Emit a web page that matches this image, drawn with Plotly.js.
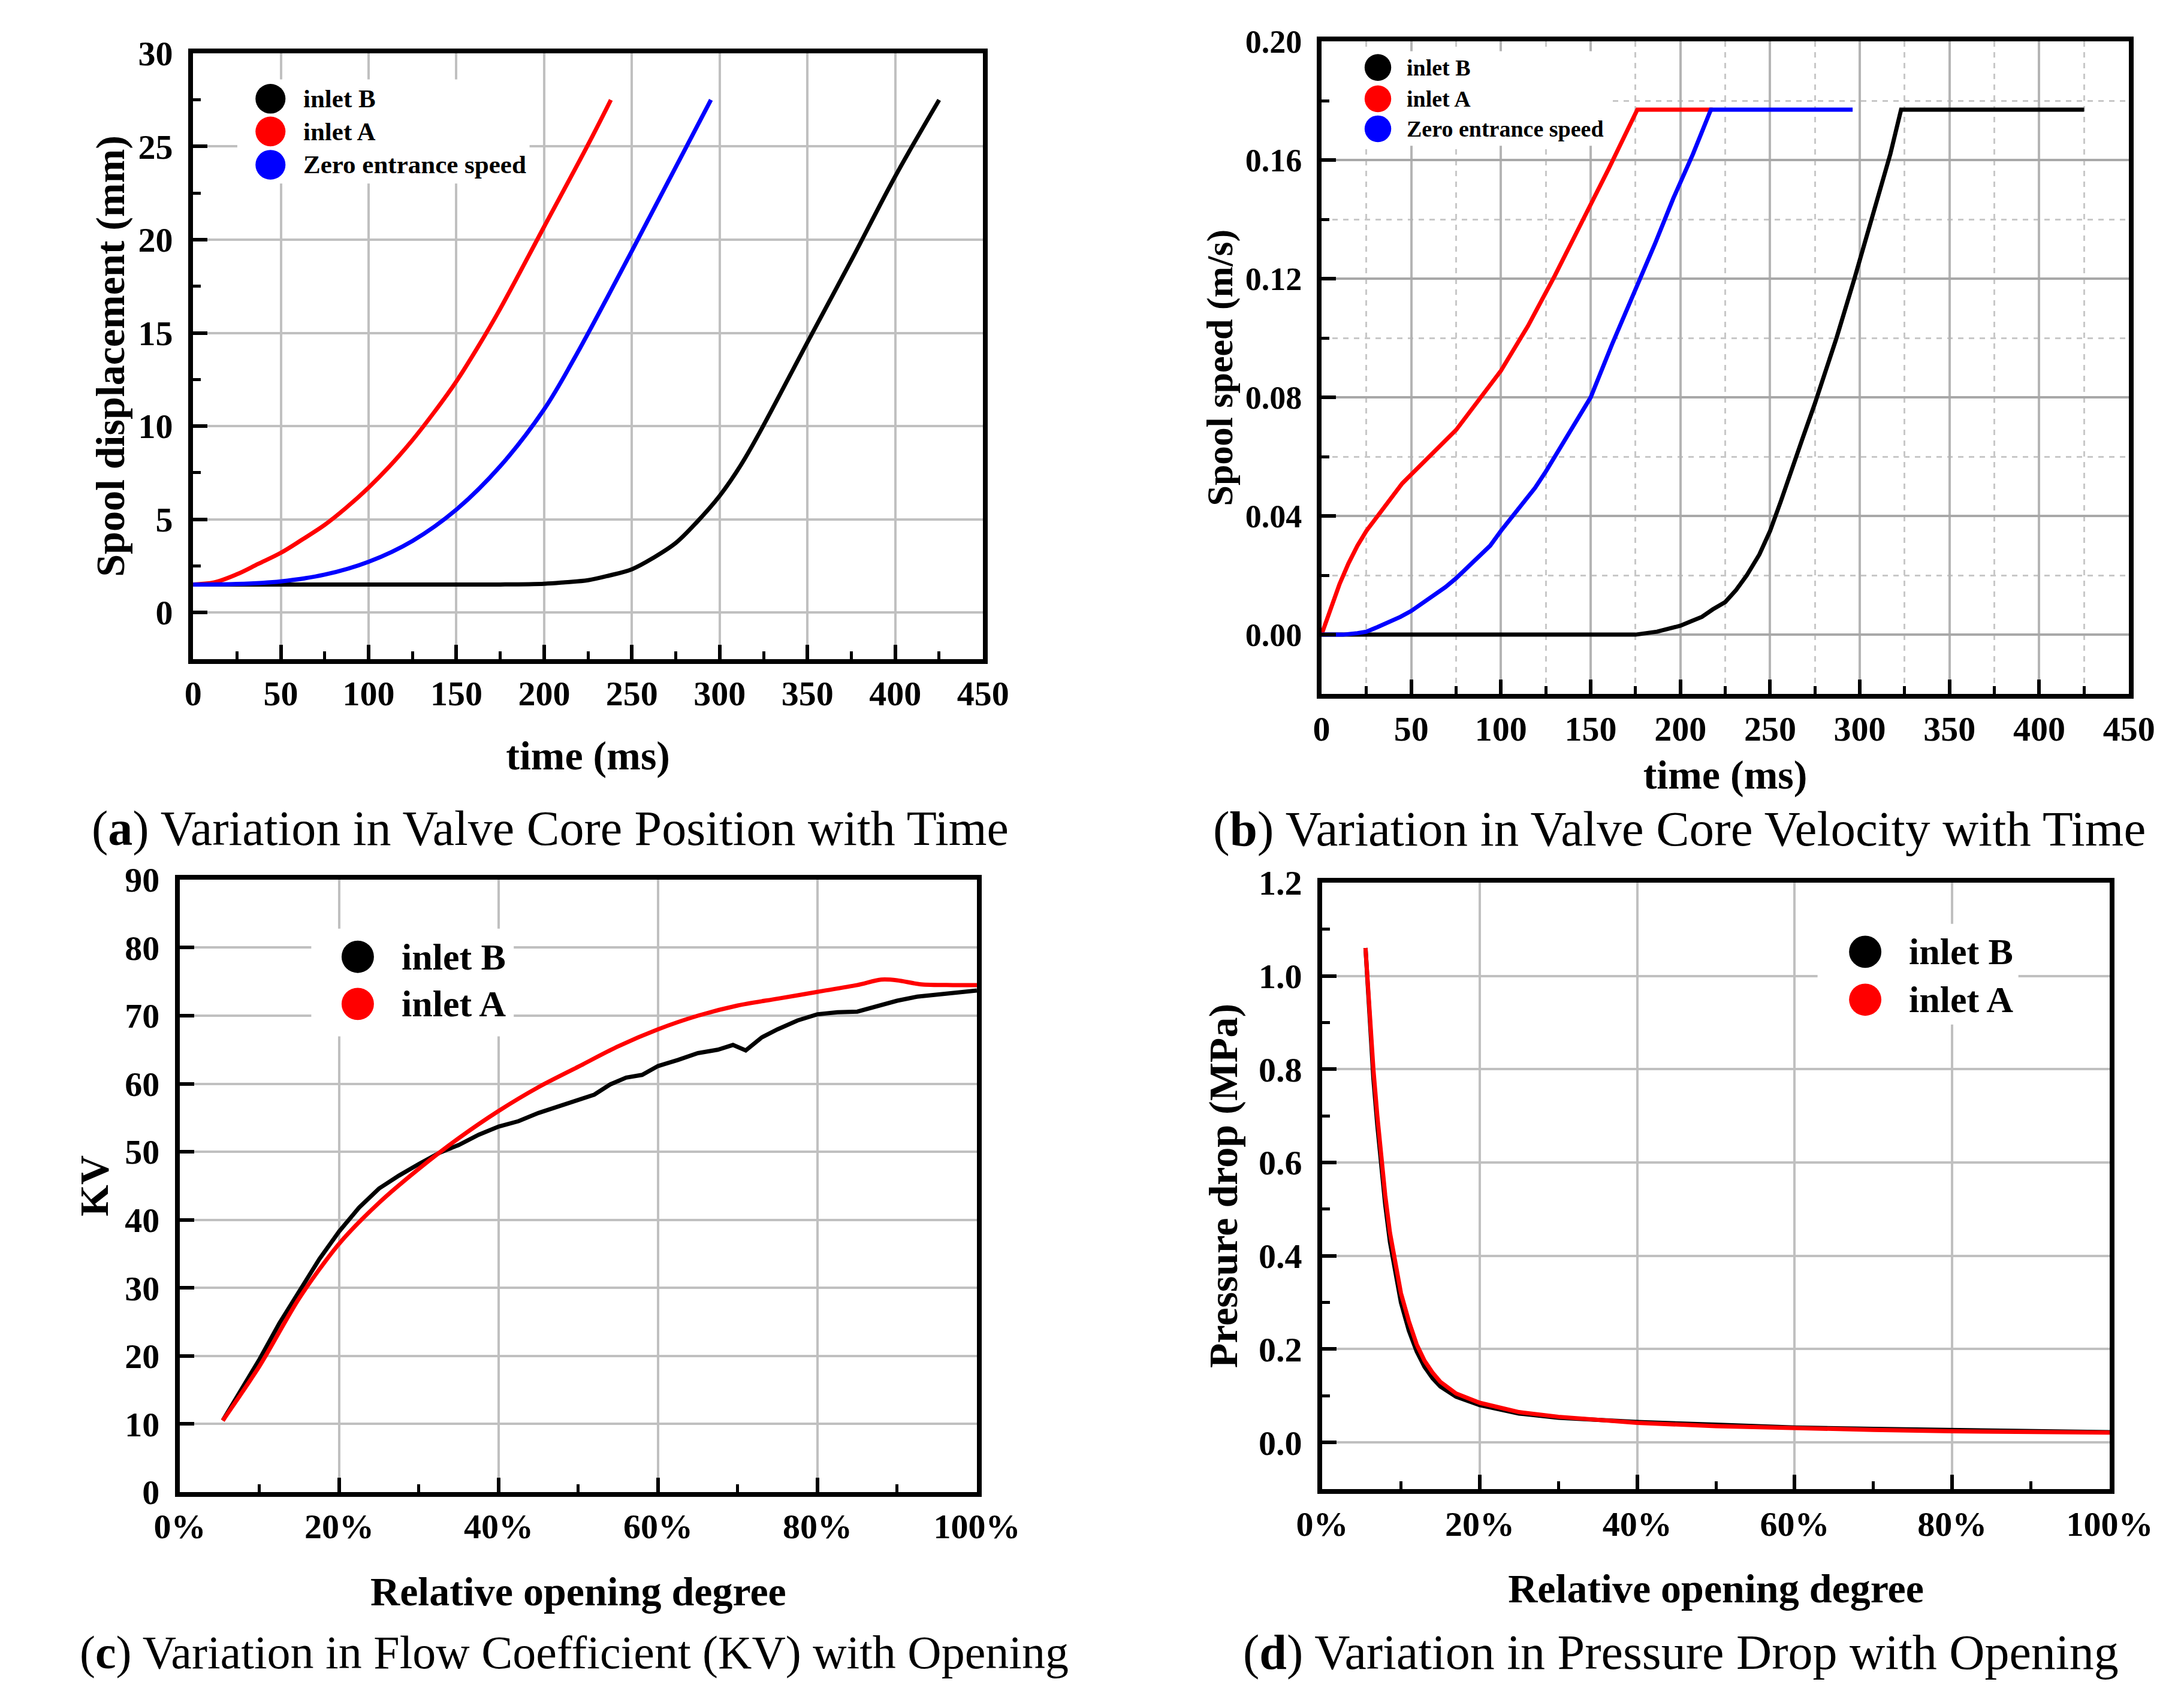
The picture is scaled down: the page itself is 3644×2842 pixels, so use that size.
<!DOCTYPE html>
<html>
<head>
<meta charset="utf-8">
<script src="https://cdn.plot.ly/plotly-3.0.1.min.js"></script>
<style>
  html, body { margin: 0; padding: 0; background: #fff; }
  #chart { width: 3644px; height: 2842px; }
</style>
</head>
<body>
<div id="chart"></div>
<script>
// (a) spool displacement (mm) vs time (ms)
const posTimeB = [0, 50, 100, 150, 175, 200, 212, 225, 237, 250, 262, 275, 287, 300, 312, 323, 350, 375, 400, 425];
const posB     = [1.5, 1.5, 1.5, 1.5, 1.5, 1.54, 1.62, 1.73, 1.98, 2.32, 2.92, 3.73, 4.85, 6.26, 7.9, 9.7, 14.5, 18.9, 23.4, 27.5];
const posTimeA = [0, 12, 25, 37, 50, 62, 75, 87, 100, 112, 125, 137, 150, 162, 175, 200, 225, 238];
const posA     = [1.5, 1.61, 2.05, 2.6, 3.2, 3.9, 4.7, 5.6, 6.7, 7.85, 9.25, 10.7, 12.4, 14.2, 16.3, 20.7, 25.1, 27.5];
const posTimeZ = [0, 25, 50, 75, 100, 125, 150, 175, 200, 217, 250, 275, 295];
const posZ     = [1.5, 1.53, 1.67, 2.03, 2.72, 3.84, 5.52, 7.85, 10.9, 13.6, 19.4, 23.9, 27.5];

// (b) spool speed (m/s) vs time (ms)
const spdTimeB = [0, 100, 175, 187, 200, 206, 212, 218, 225, 231, 237, 244, 250, 256, 262, 268, 275, 281, 287, 297, 310, 317, 323, 425];
const spdB     = [0, 0, 0, 0.001, 0.003, 0.0045, 0.006, 0.0085, 0.011, 0.015, 0.02, 0.027, 0.035, 0.045, 0.055, 0.066, 0.078, 0.089, 0.1, 0.12, 0.148, 0.162, 0.177, 0.177];
const spdTimeA = [0, 5, 10, 15, 20, 25, 30, 35, 40, 45, 50, 55, 60, 65, 70, 75, 80, 85, 90, 95, 100, 115, 130, 145, 160, 176, 218];
const spdA     = [0, 0.009, 0.017, 0.024, 0.030, 0.035, 0.039, 0.043, 0.047, 0.051, 0.054, 0.057, 0.060, 0.063, 0.066, 0.069, 0.073, 0.077, 0.081, 0.085, 0.089, 0.104, 0.121, 0.139, 0.157, 0.177, 0.177];
const spdTimeZ = [0, 12, 20, 25, 31, 37, 44, 50, 56, 62, 69, 75, 81, 87, 94, 100, 106, 112, 119, 125, 131, 137, 144, 150, 162, 175, 186, 196, 207, 217, 296];
const spdZ     = [0, 0, 0.0005, 0.001, 0.0025, 0.004, 0.006, 0.008, 0.0105, 0.013, 0.016, 0.019, 0.0225, 0.026, 0.030, 0.035, 0.0395, 0.044, 0.0495, 0.055, 0.061, 0.067, 0.0735, 0.08, 0.098, 0.116, 0.132, 0.147, 0.162, 0.177, 0.177];

// (c) flow coefficient KV vs relative opening (%)
const kvOpenB = [5.4, 8, 10, 12.5, 15, 17.5, 20, 22.5, 25, 27.5, 30, 32.5, 35, 37.5, 40, 42.5, 45, 47.5, 50, 52, 54, 56, 58, 60, 62.5, 65, 67.5, 69.4, 71, 73, 75, 77.5, 80, 82.5, 85, 87.5, 90, 92.5, 95, 97.5, 100];
const kvB     = [10.5, 15.5, 19.5, 24.8, 29.5, 34.2, 38.3, 41.8, 44.6, 46.5, 48.2, 49.8, 51, 52.5, 53.7, 54.5, 55.7, 56.7, 57.7, 58.4, 59.9, 60.9, 61.3, 62.6, 63.5, 64.5, 65, 65.7, 64.9, 66.8, 68, 69.3, 70.2, 70.5, 70.6, 71.4, 72.2, 72.8, 73.1, 73.4, 73.7];
const kvOpenA = [5.4, 10, 15, 20, 25, 30, 35, 40, 45, 50, 55, 60, 65, 70, 75, 80, 85, 88, 90, 93, 97, 100];
const kvA     = [10.5, 18.5, 28.5, 36.5, 42.5, 47.5, 52, 56, 59.5, 62.5, 65.5, 68, 70, 71.5, 72.5, 73.5, 74.5, 75.3, 75.2, 74.6, 74.5, 74.5];

// (d) pressure drop (MPa) vs relative opening (%)
const dpOpenB = [5.5, 6, 6.5, 7, 7.5, 8, 8.6, 9.3, 10, 11, 12, 13, 14, 15, 17, 20, 25, 30, 40, 50, 60, 70, 80, 90, 100];
const dpB     = [1.06, 0.9, 0.78, 0.68, 0.59, 0.51, 0.43, 0.36, 0.3, 0.24, 0.195, 0.162, 0.138, 0.12, 0.098, 0.08, 0.062, 0.053, 0.044, 0.038, 0.032, 0.029, 0.026, 0.024, 0.022];
const dpOpenA = [5.5, 6, 6.5, 7, 7.5, 8, 8.6, 9.3, 10, 11, 12, 13, 14, 15, 17, 20, 25, 30, 40, 50, 60, 70, 80, 90, 100];
const dpA     = [1.06, 0.92, 0.8, 0.7, 0.61, 0.53, 0.45, 0.38, 0.32, 0.26, 0.21, 0.175, 0.15, 0.13, 0.105, 0.085, 0.065, 0.055, 0.042, 0.035, 0.03, 0.027, 0.024, 0.022, 0.021];

const seriesNames3 = ['inlet B', 'inlet A', 'Zero entrance speed'];
const seriesNames2 = ['inlet B', 'inlet A'];
const seriesColors = ['#000000', '#ff0000', '#0000ff'];

const captions = [
  '(<b>a</b>) Variation in Valve Core Position with Time',
  '(<b>b</b>) Variation in Valve Core Velocity with Time',
  '(<b>c</b>) Variation in Flow Coefficient (KV) with Opening',
  '(<b>d</b>) Variation in Pressure Drop with Opening'
];

const SERIF = '"Liberation Serif", "Times New Roman", serif';
const LW = 7;

function line(x, y, ax, color, shape, smoothing) {
  return {
    x: x, y: y, xaxis: 'x' + ax, yaxis: 'y' + ax, type: 'scatter', mode: 'lines',
    line: {color: color, width: LW, shape: shape || 'linear', smoothing: smoothing || 1},
    showlegend: false, hoverinfo: 'skip'
  };
}

const traces = [
  line(posTimeB, posB, '', seriesColors[0], 'spline', 1),
  line(posTimeA, posA, '', seriesColors[1], 'spline', 1),
  line(posTimeZ, posZ, '', seriesColors[2], 'spline', 1),
  line(spdTimeB, spdB, '2', seriesColors[0]),
  line(spdTimeA, spdA, '2', seriesColors[1]),
  line(spdTimeZ, spdZ, '2', seriesColors[2]),
  line(kvOpenB, kvB, '3', seriesColors[0]),
  line(kvOpenA, kvA, '3', seriesColors[1], 'spline', 0.8),
  line(dpOpenB, dpB, '4', seriesColors[0]),
  line(dpOpenA, dpA, '4', seriesColors[1])
];

function axis(domain, title, standoff, extra, labelGap) {
  const a = {
    domain: domain,
    showline: true, linecolor: '#000', linewidth: 8, mirror: true,
    ticks: 'inside', ticklen: 24, tickwidth: 6, tickcolor: '#000',
    ticklabelstandoff: labelGap,
    showgrid: true, gridcolor: '#c0c0c0', gridwidth: 4,
    zeroline: false,
    tickfont: {family: SERIF, size: 58, color: '#000', weight: 'bold'},
    title: {text: title, standoff: standoff, font: {family: SERIF, size: 68, color: '#000', weight: 'bold'}}
  };
  return Object.assign(a, extra);
}

const minorTicks = (d) => ({ticks: 'inside', ticklen: 13, tickwidth: 5, tickcolor: '#000', dtick: d, showgrid: false});
const minorDash = (d) => ({ticks: 'inside', ticklen: 13, tickwidth: 5, tickcolor: '#000', dtick: d,
  showgrid: true, griddash: 'dash', gridcolor: '#c8c8c8', gridwidth: 3});

// legend drawn by hand: library legend markers are capped far below the reference size
const shapes = [];
const annotations = [];
function legend(ax, names, box, cx, cys, dx, dy, tx, fsize) {
  const xr = 'x' + ax + ' domain', yr = 'y' + ax + ' domain';
  shapes.push({type: 'rect', xref: xr, yref: yr, x0: box[0], x1: box[1], y0: box[2], y1: box[3],
    fillcolor: '#fff', line: {width: 0}, layer: 'above'});
  names.forEach((n, i) => {
    shapes.push({type: 'circle', xref: xr, yref: yr, x0: cx - dx / 2, x1: cx + dx / 2,
      y0: cys[i] - dy / 2, y1: cys[i] + dy / 2, fillcolor: seriesColors[i], line: {width: 0}, layer: 'above'});
    annotations.push({xref: xr, yref: yr, x: tx, y: cys[i], xanchor: 'left', yanchor: 'middle',
      text: n, showarrow: false, font: {family: SERIF, size: fsize, color: '#000', weight: 'bold'}});
  });
}
legend('', seriesNames3, [0.056, 0.426, 0.785, 0.957], 0.098, [0.925, 0.871, 0.816], 0.038, 0.049, 0.138, 43);
legend('2', seriesNames3, [0.01, 0.358, 0.84, 0.985], 0.0698, [0.960, 0.912, 0.866], 0.033, 0.041, 0.104, 38);
legend('3', seriesNames2, [0.165, 0.419, 0.744, 0.92], 0.2233, [0.874, 0.797], 0.0406, 0.0528, 0.277, 62);
legend('4', seriesNames2, [0.629, 0.884, 0.766, 0.932], 0.6895, [0.886, 0.807], 0.041, 0.053, 0.7435, 62);

const capPos = [[0.252, 0.5134, 82], [0.769, 0.5134, 83], [0.263, 0.0299, 78], [0.7696, 0.0299, 82]];
captions.forEach((t, i) => {
  annotations.push({xref: 'paper', yref: 'paper', x: capPos[i][0], y: capPos[i][1],
    xanchor: 'center', yanchor: 'middle', text: t, showarrow: false,
    font: {family: SERIF, size: capPos[i][2], color: '#000'}});
});

const layout = {
  width: 3644, height: 2842,
  margin: {l: 0, r: 0, t: 0, b: 0},
  paper_bgcolor: '#fff', plot_bgcolor: '#fff',
  showlegend: false,
  xaxis: axis([0.0884, 0.4501], 'time (ms)', 50, {range: [0, 450], dtick: 50, minor: minorTicks(25), anchor: 'y'}, 0),
  yaxis: axis([0.6130, 0.9687], 'Spool displacement (mm)', 4, {range: [-2.5, 30], dtick: 5, minor: minorTicks(2.5), anchor: 'x'}, 14),
  xaxis2: axis([0.6051, 0.9748], 'time (ms)', 24, {range: [0, 450], dtick: 50, minor: minorDash(25), anchor: 'y2',
    gridcolor: '#b4b4b4'}, 0),
  yaxis2: axis([0.5925, 0.9757], 'Spool speed (m/s)', 4, {range: [-0.02, 0.2], dtick: 0.04, tickformat: '.2f',
    minor: minorDash(0.02), anchor: 'x2', gridcolor: '#a8a8a8', tickfont: {family: SERIF, size: 54, color: '#000', weight: 'bold'},
    title: {text: 'Spool speed (m/s)', standoff: 4, font: {family: SERIF, size: 62, color: '#000', weight: 'bold'}}}, 14),
  xaxis3: axis([0.0823, 0.4473], 'Relative opening degree', 55, {range: [0, 100], dtick: 20, ticksuffix: '%', minor: minorTicks(10), anchor: 'y3'}, 0),
  yaxis3: axis([0.1239, 0.4835], 'KV', 8, {range: [0, 90], dtick: 10, anchor: 'x3'}, 14),
  xaxis4: axis([0.6054, 0.9660], 'Relative opening degree', 55, {range: [0, 100], dtick: 20, ticksuffix: '%', minor: minorTicks(10), anchor: 'y4'}, 0),
  yaxis4: axis([0.1256, 0.4817], 'Pressure drop (MPa)', 16, {range: [-0.1, 1.2], dtick: 0.2, tickformat: '.1f', minor: minorTicks(0.1), anchor: 'x4'}, 14),
  shapes: shapes,
  annotations: annotations
};

Plotly.newPlot('chart', traces, layout, {staticPlot: true});
</script>
</body>
</html>
